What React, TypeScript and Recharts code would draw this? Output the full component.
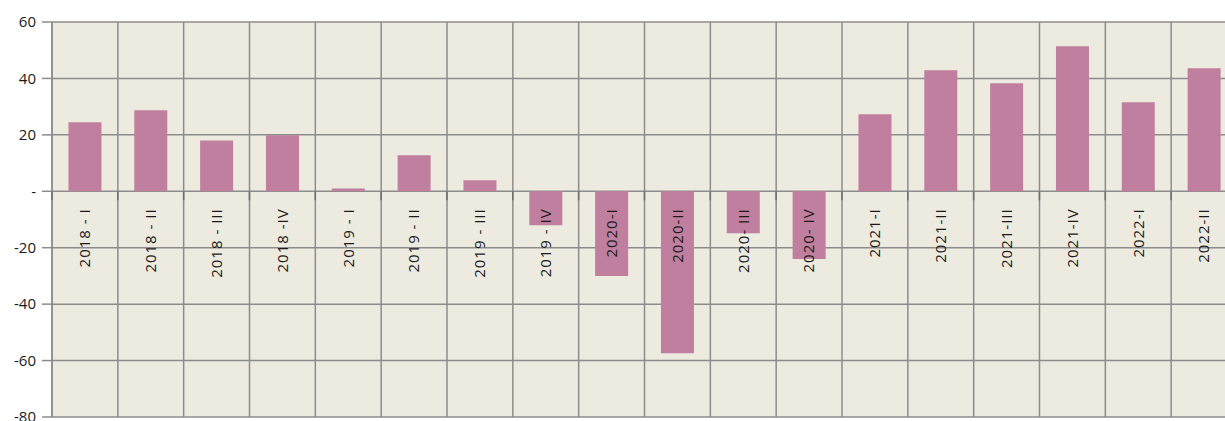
import React from "react";
import { Bar, BarChart, CartesianGrid, LabelList, YAxis, XAxis } from "recharts";

const categories = [
  "2018 - I", "2018 - II", "2018 - III", "2018 -IV",
  "2019 - I", "2019 - II", "2019 - III", "2019 - IV",
  "2020-I", "2020-II", "2020- III", "2020- IV",
  "2021-I", "2021-II", "2021-III", "2021-IV",
  "2022-I", "2022-II",
];
const values = [24.5, 28.7, 18, 19.9, 1, 12.8, 3.9, -12, -30, -57.4, -14.9, -24, 27.3, 42.9, 38.3, 51.4, 31.6, 43.6];
const yTicks = [-80, -60, -40, -20, 0, 20, 40, 60];

const rows = categories.map((name, i) => ({ name, value: values[i] }));

const FONT = "'Open Sans', 'Liberation Sans', sans-serif";

// category label drawn just under the zero line, plus the small boundary tick
function ZeroLabel(props: any) {
  const { x, y, width, height, value } = props;
  const cx = x + width / 2;
  const y0 = y + height;
  const edge = x - width / 2;
  const top = y0 + 17;
  return (
    <g>
      <line x1={edge} x2={edge} y1={y0} y2={y0 + 9} stroke="#6e6e6e" strokeWidth={1.5} />
      <text
        x={cx}
        y={top}
        dy="0.35em"
        textAnchor="end"
        transform={`rotate(-90, ${cx}, ${top})`}
        fill="#1a1a1a"
        fontSize={15}
        letterSpacing={1}
        fontFamily={FONT}
      >
        {value}
      </text>
    </g>
  );
}

export default function App() {
  return (
    <div style={{ position: "fixed", left: 0, top: 0, width: 1225, height: 421, overflow: "hidden", background: "#fff" }}>
      <BarChart
        width={1240}
        height={421}
        data={rows}
        margin={{ top: 22, right: 3, bottom: 4, left: 0 }}
        barCategoryGap="25%"
      >
        <CartesianGrid
          fill="#EDEAE0"
          stroke="#8c8c8c"
          strokeWidth={1.5}
          verticalCoordinatesGenerator={({ offset }: any) =>
            categories.map((_, i) => offset.left + (i * offset.width) / categories.length)
          }
        />
        <XAxis dataKey="name" hide />
        <YAxis
          width={52}
          domain={[-80, 60]}
          ticks={yTicks}
          interval={0}
          tickSize={10}
          tickMargin={6}
          axisLine={{ stroke: "#8c8c8c", strokeWidth: 1.5 }}
          tickLine={{ stroke: "#8c8c8c", strokeWidth: 1.5 }}
          tick={{ fill: "#1a1a1a", fontSize: 15, fontFamily: FONT }}
          tickFormatter={(v: number) => (v === 0 ? "-" : String(v))}
        />
        <Bar dataKey="value" fill="#C07F9E" isAnimationActive={false}>
          <LabelList dataKey="name" content={<ZeroLabel />} />
        </Bar>
      </BarChart>
    </div>
  );
}
